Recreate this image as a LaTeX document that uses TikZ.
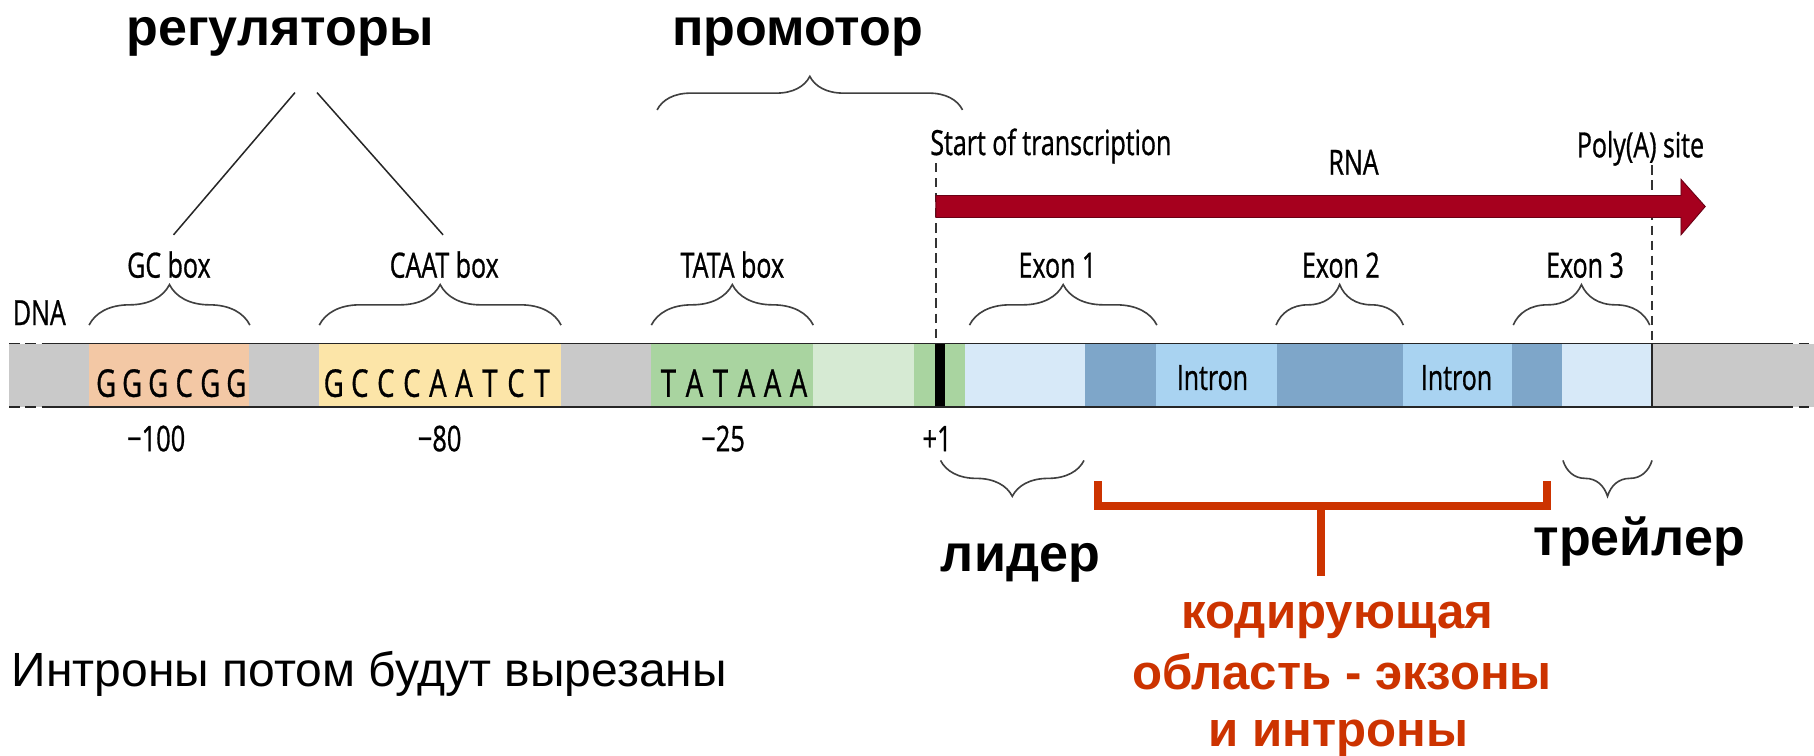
\documentclass[tikz,border=0pt]{standalone}
\usepackage{fontspec}
\setmainfont{Liberation Sans}
\newfontfamily\myr[FakeStretch=0.72,FakeBold=0.8]{Open Sans}
\usetikzlibrary{decorations.pathreplacing}
\definecolor{stripgray}{HTML}{C9C9C9}
\definecolor{gcor}{HTML}{F3C8A5}
\definecolor{caaty}{HTML}{FCE5A8}
\definecolor{tatag}{HTML}{A9D4A0}
\definecolor{lightg}{HTML}{D6EAD3}
\definecolor{paleb}{HTML}{D7E9F8}
\definecolor{darkb}{HTML}{7EA6C9}
\definecolor{intronb}{HTML}{A9D3F1}
\definecolor{rnared}{HTML}{A6001E}
\definecolor{rnaedge}{HTML}{6A0015}
\definecolor{redlbl}{HTML}{CC3300}
\definecolor{bracegray}{HTML}{404040}
\begin{document}
\begin{tikzpicture}[x=1pt,y=-1pt,
  lbl/.style={font=\myr\fontsize{30}{33}\selectfont, inner sep=0pt, anchor=base},
  numlbl/.style={font=\myr\fontsize{30.5}{33}\selectfont, inner sep=0pt, anchor=base},
  seq/.style={font=\myr\fontsize{33}{36}\selectfont, inner sep=0pt, anchor=base},
  big/.style={font=\bfseries\fontsize{45}{52}\selectfont, inner sep=0pt, anchor=base},
  redt/.style={font=\bfseries\fontsize{42.5}{50}\selectfont, text=redlbl, inner sep=0pt, anchor=base},
  plain/.style={font=\fontsize{41.5}{46}\selectfont, inner sep=0pt, anchor=base west},
  bracebox/.style={draw=bracegray, line width=1.4pt, decorate, decoration={brace, amplitude=#1}},
  stripline/.style={draw=black!85, line width=1.5pt},
  stripdash/.style={draw=black!85, line width=1.5pt, dash pattern=on 9pt off 5pt},
  vdash/.style={draw=black!80, line width=1.1pt, dash pattern=on 8pt off 5pt},
  thinline/.style={draw=black!85, line width=1.3pt},
  redbracket/.style={draw=redlbl, line width=7pt}
]
\useasboundingbox (0,0) rectangle (1568,653);
\fill[white] (0,0) rectangle (1568,653);

% ---- DNA strip ----
\fill[stripgray] (8,297) rectangle (1568,352);
\fill[gcor] (77,297) rectangle (215,352);
\fill[caaty] (276,297) rectangle (485,352);
\fill[tatag] (563,297) rectangle (703,352);
\fill[lightg] (703,297) rectangle (790,352);
\fill[tatag] (790,297) rectangle (834,352);
\fill[black] (808,297) rectangle (817,352);
\fill[paleb] (834,297) rectangle (938,352);
\fill[darkb] (938,297) rectangle (999,352);
\fill[intronb] (999,297) rectangle (1104,352);
\fill[darkb] (1104,297) rectangle (1213,352);
\fill[intronb] (1213,297) rectangle (1307,352);
\fill[darkb] (1307,297) rectangle (1350,352);
\fill[paleb] (1350,297) rectangle (1428,352);

\coordinate (sl1) at (37.6,297); \coordinate (sr1) at (1541,297);
\coordinate (sl2) at (37.6,352); \coordinate (sr2) at (1541,352);
\coordinate (el1) at (8,297); \coordinate (er1) at (1568,297);
\coordinate (el2) at (8,352); \coordinate (er2) at (1568,352);
\draw[stripline] (sl1) -- (sr1);
\draw[stripline] (sl2) -- (sr2);
\draw[stripdash] (el1) -- (sl1);
\draw[stripdash] (el2) -- (sl2);
\draw[stripdash] (sr1) -- (er1);
\draw[stripdash] (sr2) -- (er2);

% poly(A) line in strip
\coordinate (pa1) at (1428,297); \coordinate (pa2) at (1428,352);
\draw[draw=black!85, line width=1.1pt] (pa1) -- (pa2);

% ---- sequences ----
\foreach \l [count=\i from 0] in {G,G,G,C,G,G}
  \node[seq] (gc\i) at ({91.75+\i*22.5},343) {\l};
\foreach \l [count=\i from 0] in {G,C,C,C,A,A,T,C,T}
  \node[seq] (ca\i) at ({288.5+\i*22.5},343) {\l};
\foreach \l [count=\i from 0] in {T,A,T,A,A,A}
  \node[seq] (ta\i) at ({577.75+\i*22.5},343) {\l};

\node[lbl] (in1) at (1048,337) {Intron};
\node[lbl] (in2) at (1259,337) {Intron};

% ---- labels above ----
\node[lbl] (dna) at (34,281) {DNA};
\node[lbl] (gcl) at (146,240) {GC box};
\node[lbl] (cal) at (384,240) {CAAT box};
\node[lbl] (tal) at (633,240) {TATA box};
\node[lbl] (ex1) at (914,240) {Exon 1};
\node[lbl] (ex2) at (1159,240) {Exon 2};
\node[lbl] (ex3) at (1370,240) {Exon 3};
\node[lbl, anchor=base west] (sot) at (804,134) {Start of transcription};
\node[lbl] (rna) at (1170,151) {RNA};
\node[lbl] (pol) at (1418,136) {Poly(A) site};

% ---- numbers ----
\node[numlbl] (n100) at (135,390) {−100};
\node[numlbl] (n80) at (380,390) {−80};
\node[numlbl] (n25) at (625,390) {−25};
\node[numlbl] (p1) at (810,390) {+1};

% ---- braces ----
\draw[bracebox=35pt] (77,281) -- (216,281);
\draw[bracebox=35pt] (276,281) -- (485,281);
\draw[bracebox=35pt] (563,281) -- (703,281);
\draw[bracebox=35pt] (838,281) -- (1000,281);
\draw[bracebox=35pt] (1103,281) -- (1213,281);
\draw[bracebox=35pt] (1308,281) -- (1426,281);
\draw[bracebox=29pt] (568,95) -- (832,95);
\draw[bracebox=31pt] (937,398) -- (813,398);
\draw[bracebox=31pt] (1428,398) -- (1351,398);

% ---- dashed verticals ----
\coordinate (tss1) at (809,141); \coordinate (tss2) at (809,297);
\coordinate (pol1) at (1428,143);
\draw[vdash] (tss1) -- (tss2);
\draw[vdash] (pol1) -- (pa1);

% ---- RNA arrow ----
\coordinate (r0) at (809,178.5);
\coordinate (r1) at (1474,178.5);
\draw[fill=rnared, draw=rnaedge, line width=0.8pt]
  (809,169) -- (1453,169) -- (1453,155) -- (r1) -- (1453,203) -- (1453,188) -- (809,188) -- cycle;

% ---- regulators triangle ----
\coordinate (ta) at (255,80); \coordinate (tb) at (150,203);
\coordinate (tc) at (274,80); \coordinate (td) at (383,203);
\draw[thinline] (ta) -- (tb);
\draw[thinline] (tc) -- (td);

% ---- big labels ----
\node[big] (reg) at (242,39) {регуляторы};
\node[big] (prom) at (689.5,39) {промотор};
\node[big] (lid) at (882,494) {лидер};
\node[big] (trl) at (1417,480) {трейлер};

% ---- red bracket ----
\coordinate (rb1) at (949,416); \coordinate (rb2) at (949,437);
\coordinate (rb3) at (1337,437); \coordinate (rb4) at (1337,416);
\coordinate (rs1) at (1142,437); \coordinate (rs2) at (1142,498);
\draw[redbracket] (rb1) -- (rb2) -- (rb3) -- (rb4);
\draw[redbracket] (rs1) -- (rs2);

\node[redt] (k1) at (1156,543) {кодирующая};
\node[redt] (k2) at (1160,596) {область - экзоны};
\node[redt] (k3) at (1157,645) {и интроны};

\node[plain] (note) at (10,593) {Интроны потом будут вырезаны};
\end{tikzpicture}
\end{document}
